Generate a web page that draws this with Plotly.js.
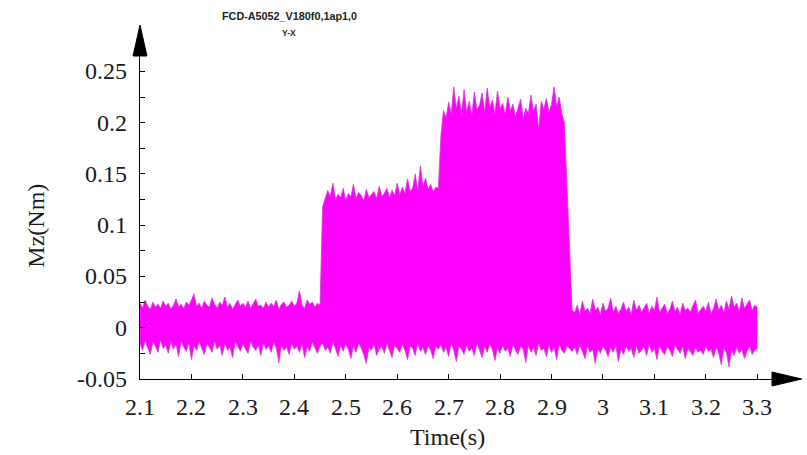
<!DOCTYPE html>
<html>
<head>
<meta charset="utf-8">
<script src="https://cdn.plot.ly/plotly-3.0.1.min.js"></script>
<style>html,body{margin:0;padding:0;background:#fff;}#chart{width:807px;height:455px;}</style>
</head>
<body>
<div id="chart"></div>
<script>
// Sampling grid of the envelope readings (seconds)
const sampleStart = 2.1;
const sampleStep = 0.005;

// Upper envelope of the Mz signal (milli-Nm), one value per sample
const upperEnvelope_mNm = [
  24, 19, 27, 21, 18, 25, 20, 23, 19, 26,
  21, 24, 18, 22, 28, 20, 23, 19, 25, 22,
  27, 33, 21, 24, 19, 26, 22, 20, 29, 23,
  19, 25, 22, 30, 20, 24, 18, 23, 27, 21,
  24, 20, 26, 19, 23, 28, 21, 22, 19, 25,
  20, 24, 21, 27, 18, 23, 25, 20, 22, 26,
  21, 24, 36, 22, 19, 27, 23, 25, 20, 24,
  22,
  118, 126, 134, 128, 141, 125, 130, 127, 136, 124,
  131, 128, 140, 126, 132, 129, 124, 135, 127, 130,
  133, 126, 138, 128, 131, 136, 127, 134, 129, 141,
  130, 137, 131, 145, 133, 136, 150, 134, 158, 138,
  146, 135, 140, 133, 137, 136,
  188, 212, 205, 220, 209, 235, 214, 226, 208, 232,
  211, 221, 207, 230, 213, 217, 229, 210, 234, 215,
  222, 209, 231, 214, 219, 208, 225, 212, 218, 206,
  215, 223, 204, 214, 209, 227, 211, 218, 194, 221,
  213, 224, 210, 218, 235, 216, 225, 209, 200, 140,
  70, 17,
  15, 22, 13, 26, 16, 19, 14, 28, 17, 20,
  13, 24, 16, 19, 29, 15, 21, 14, 18, 25,
  16, 20, 13, 27, 17, 22, 15, 19, 24, 14,
  21, 17, 30, 15, 19, 23, 14, 18, 26, 16,
  20, 13, 24, 17, 19, 15, 22, 27, 14, 18,
  21, 16, 25, 14, 19, 28, 17, 22, 15, 26,
  18, 31, 20, 24, 16, 29, 19, 23, 27, 17,
  22, 20
];

// Lower envelope of the Mz signal (milli-Nm)
const lowerEnvelope_mNm = [
  -15, -22, -13, -19, -26, -14, -18, -24, -12, -20,
  -17, -25, -14, -21, -16, -28, -13, -19, -23, -15,
  -31, -18, -22, -14, -20, -26, -16, -19, -24, -13,
  -21, -17, -27, -15, -22, -19, -29, -14, -18, -23,
  -16, -20, -25, -13, -19, -22, -17, -27, -15, -21,
  -18, -24, -14, -20, -34, -17, -22, -19, -26, -15,
  -21, -18, -24, -16, -29, -19, -23, -14, -20, -25,
  -18,
  -15, -22, -19, -25, -14, -20, -28, -17, -23, -16,
  -21, -30, -18, -24, -15, -20, -26, -35, -19, -22,
  -16, -27, -21, -18, -25, -15, -23, -29, -17, -20,
  -24, -16, -22, -31, -18, -20, -27, -15, -23, -19,
  -26, -17, -22, -30, -18, -21,
  -16, -24, -19, -28, -15, -22, -33, -18, -21, -26,
  -17, -23, -20, -27, -15, -22, -29, -18, -24, -16,
  -21, -32, -19, -25, -17, -23, -20, -28, -16, -22,
  -26, -18, -21, -34, -17, -24, -19, -27, -15, -22,
  -20, -28, -17, -24, -19, -31, -16, -22, -25, -18,
  -20, -23,
  -19, -26, -17, -23, -30, -18, -24, -21, -35, -20,
  -25, -18, -22, -28, -19, -24, -17, -33, -21, -26,
  -18, -23, -20, -29, -17, -25, -22, -19, -27, -16,
  -24, -20, -31, -18, -23, -26, -19, -22, -28, -17,
  -21, -25, -18, -30, -20, -23, -27, -19, -24, -22,
  -26, -18, -23, -21, -29, -19, -25, -36, -20, -24,
  -38, -22, -27, -19, -25, -21, -30, -23, -18, -26,
  -22, -20
];

// Tick labels
const xTickVals = [2.1, 2.2, 2.3, 2.4, 2.5, 2.6, 2.7, 2.8, 2.9, 3.0, 3.1, 3.2, 3.3];
const xTickText = ["2.1", "2.2", "2.3", "2.4", "2.5", "2.6", "2.7", "2.8", "2.9", "3", "3.1", "3.2", "3.3"];
const yTickVals = [-0.05, 0, 0.05, 0.1, 0.15, 0.2, 0.25];
const yTickText = ["-0.05", "0", "0.05", "0.1", "0.15", "0.2", "0.25"];

const chartTitle = "FCD-A5052_V180f0,1ap1,0";
const chartSubtitle = "Y-X";
const xTitle = "Time(s)";
const yTitle = "Mz(Nm)";

const times = upperEnvelope_mNm.map((_, i) => +(sampleStart + i * sampleStep).toFixed(4));
const upper = upperEnvelope_mNm.map(v => v / 1000);
const lower = lowerEnvelope_mNm.map(v => v / 1000);

const serif = "Liberation Serif";
const sans = "Liberation Sans";
const labelFont = {family: serif, size: 24, color: '#1a1a1a'};

const traces = [
  {x: times, y: lower, type: 'scatter', mode: 'lines',
   line: {color: '#d63ad6', width: 0.8}, hoverinfo: 'skip', showlegend: false},
  {x: times, y: upper, type: 'scatter', mode: 'lines', fill: 'tonexty',
   fillcolor: '#ff00ff', line: {color: '#d63ad6', width: 0.8}, hoverinfo: 'skip', showlegend: false}
];

// Tick labels drawn as text placed on the axes' own scales
const xLabelAnn = xTickVals.map((v, i) => ({
  text: xTickText[i], xref: 'x', yref: 'paper', x: v, y: -0.087,
  xanchor: 'center', yanchor: 'middle', showarrow: false, font: labelFont
}));
const yLabelAnn = yTickVals.map((v, i) => ({
  text: yTickText[i], xref: 'paper', yref: 'y', x: -0.0175, y: v,
  xanchor: 'right', yanchor: 'middle', showarrow: false, font: labelFont
}));

const layout = {
  width: 807, height: 455,
  margin: {l: 140, r: 35, t: 56, b: 76, pad: 0},
  paper_bgcolor: '#ffffff', plot_bgcolor: '#ffffff',
  showlegend: false,
  font: {family: serif, size: 24, color: '#1a1a1a'},
  xaxis: {
    range: [2.1, 3.3286], showgrid: false, zeroline: false,
    showline: true, linecolor: '#000', linewidth: 1,
    ticks: 'inside', ticklen: 5, tickcolor: '#000', tickwidth: 1,
    tickvals: xTickVals, showticklabels: false
  },
  yaxis: {
    range: [-0.05, 0.2651], showgrid: false, zeroline: false,
    showline: true, linecolor: '#000', linewidth: 1,
    ticks: 'inside', ticklen: 5, tickcolor: '#000', tickwidth: 1,
    tickvals: yTickVals, showticklabels: false,
    minor: {dtick: 0.025, tick0: 0, ticks: 'inside', ticklen: 5, tickcolor: '#000', tickwidth: 1, showgrid: false}
  },
  shapes: [
    {type: 'path', xref: 'paper', yref: 'paper',
     path: 'M 1.0 -0.0217 L 1.047 0 L 1.0 0.0217 Z',
     fillcolor: '#000', line: {color: '#000', width: 1}},
    {type: 'path', xref: 'paper', yref: 'paper',
     path: 'M -0.011 1.0 L 0 1.096 L 0.011 1.0 Z',
     fillcolor: '#000', line: {color: '#000', width: 1}}
  ],
  annotations: [
    {text: '<b>' + chartTitle + '</b>', xref: 'paper', yref: 'paper',
     x: 0.2358, y: 1.124, xanchor: 'center', yanchor: 'middle', showarrow: false,
     font: {family: sans, size: 10.8, color: '#222'}},
    {text: '<b>' + chartSubtitle + '</b>', xref: 'paper', yref: 'paper',
     x: 0.2358, y: 1.07, xanchor: 'center', yanchor: 'middle', showarrow: false,
     font: {family: sans, size: 8.5, color: '#222'}},
    {text: xTitle, xref: 'paper', yref: 'paper',
     x: 0.486, y: -0.18, xanchor: 'center', yanchor: 'middle', showarrow: false,
     font: labelFont},
    {text: yTitle, xref: 'paper', yref: 'paper', textangle: -90,
     x: -0.166, y: 0.475, xanchor: 'center', yanchor: 'middle', showarrow: false,
     font: labelFont}
  ].concat(xLabelAnn, yLabelAnn)
};

Plotly.newPlot('chart', traces, layout, {staticPlot: true, displayModeBar: false});
</script>
</body>
</html>
